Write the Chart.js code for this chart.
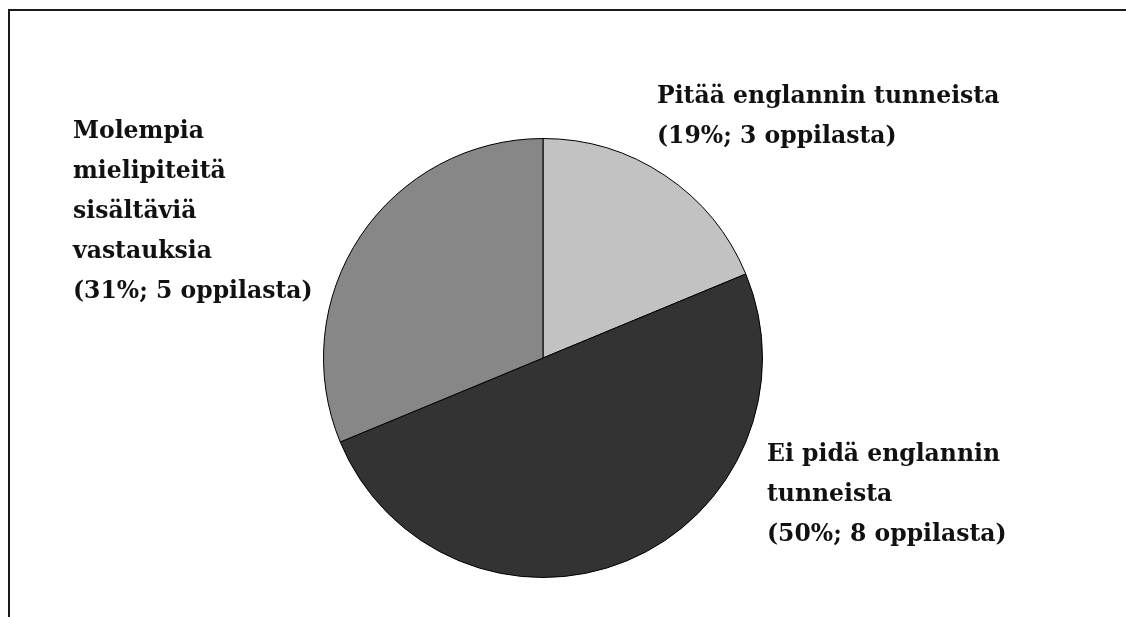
<!DOCTYPE html>
<html>
<head>
<meta charset="utf-8">
<title>Asenne englannin tunteihin</title>
<script src="https://cdn.jsdelivr.net/npm/chart.js@4/dist/chart.umd.min.js"></script>
<style>
  html, body { margin: 0; padding: 0; background: #ffffff; }
  #wrap { position: relative; width: 1126px; height: 617px; }
</style>
</head>
<body>
<div id="wrap"><canvas id="pie" width="1126" height="617"></canvas></div>
<script>
// Vastausryhmät ja oppilasmäärät
const categories = ['Pitää englannin tunneista', 'Ei pidä englannin tunneista', 'Molempia mielipiteitä sisältäviä vastauksia'];
const students = [3, 8, 5];
// Selitteen rivitys kullekin ryhmälle
const labelLines = [
  ['Pitää englannin tunneista'],
  ['Ei pidä englannin', 'tunneista'],
  ['Molempia', 'mielipiteitä', 'sisältäviä', 'vastauksia']
];
const sliceColors = ['#c2c2c2', '#333333', '#878787'];

const total = students.reduce((a, b) => a + b, 0);
const pctLine = (n) => '(' + Math.round(n / total * 100) + '%; ' + n + ' oppilasta)';

// Selitteiden ankkuripisteet (vasen reuna, ensimmäisen rivin perusviiva)
const labelAnchors = [
  { x: 657, y: 103 },
  { x: 767, y: 461 },
  { x: 73, y: 138 }
];
const lineStep = 40;
const labelFont = 'bold 23.5px "DejaVu Serif", serif';

const framePlugin = {
  id: 'frame',
  beforeDraw(chart) {
    const ctx = chart.ctx;
    ctx.save();
    ctx.fillStyle = '#ffffff';
    ctx.fillRect(0, 0, chart.width, chart.height);
    ctx.fillStyle = '#1a1a1a';
    ctx.fillRect(8, 9, chart.width - 8, 2);
    ctx.fillRect(8, 9, 2, chart.height - 9);
    ctx.restore();
  }
};

const sliceLabels = {
  id: 'sliceLabels',
  afterDraw(chart) {
    const ctx = chart.ctx;
    ctx.save();
    ctx.font = labelFont;
    ctx.fillStyle = '#111111';
    ctx.textAlign = 'left';
    ctx.textBaseline = 'alphabetic';
    students.forEach((n, i) => {
      const lines = labelLines[i].concat([pctLine(n)]);
      const a = labelAnchors[i];
      lines.forEach((t, k) => ctx.fillText(t, a.x, a.y + k * lineStep));
    });
    ctx.restore();
  }
};

new Chart(document.getElementById('pie'), {
  type: 'pie',
  data: {
    labels: categories,
    datasets: [{
      data: students,
      backgroundColor: sliceColors,
      borderColor: '#000000',
      borderWidth: 1
    }]
  },
  options: {
    responsive: false,
    animation: false,
    layout: { padding: { left: 322, right: 362, top: 138, bottom: 39 } },
    plugins: {
      legend: { display: false },
      tooltip: { enabled: false }
    }
  },
  plugins: [framePlugin, sliceLabels]
});
</script>
</body>
</html>
